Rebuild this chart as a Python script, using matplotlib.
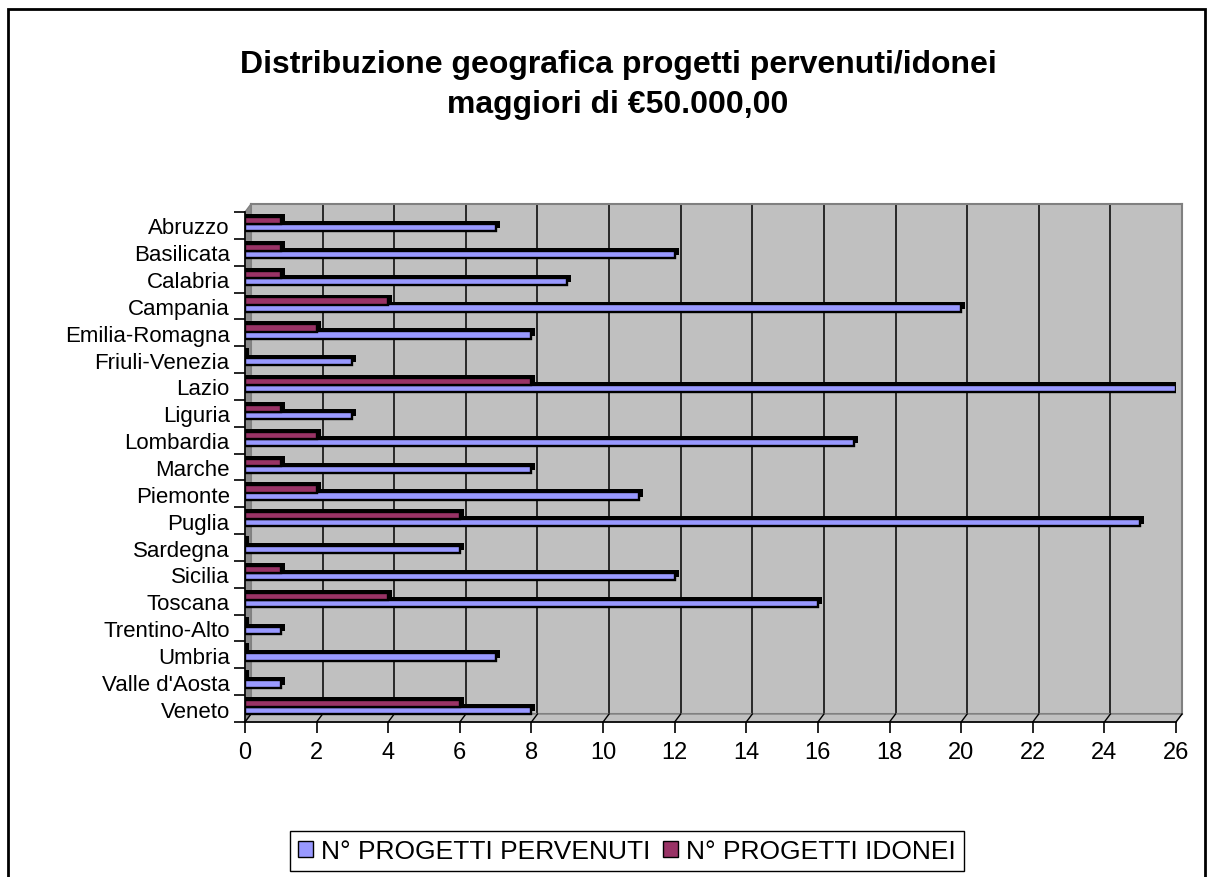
import numpy as np
import matplotlib
matplotlib.use("Agg")
import matplotlib.pyplot as plt
from matplotlib.patches import Polygon, Rectangle
from matplotlib.lines import Line2D

plt.rcParams["font.family"] = ["Liberation Sans", "DejaVu Sans"]

regioni = ["Abruzzo", "Basilicata", "Calabria", "Campania", "Emilia-Romagna",
           "Friuli-Venezia", "Lazio", "Liguria", "Lombardia", "Marche",
           "Piemonte", "Puglia", "Sardegna", "Sicilia", "Toscana",
           "Trentino-Alto", "Umbria", "Valle d'Aosta", "Veneto"]
pervenuti = [7, 12, 9, 20, 8, 3, 26, 3, 17, 8, 11, 25, 6, 12, 16, 1, 7, 1, 8]
idonei = [1, 1, 1, 4, 2, 0, 8, 1, 2, 1, 2, 6, 0, 1, 4, 0, 0, 0, 6]
xticks = list(range(0, 27, 2))

W, H = 1208, 878
blu = "#9999FF"
bordeaux = "#993366"
grigio = "#C0C0C0"

fig = plt.figure(figsize=(W / 100, H / 100), dpi=100)


def px(x, y):
    return (x / W, 1 - y / H)


def box(x0, y0, x1, y1):
    return [x0 / W, 1 - y1 / H, (x1 - x0) / W, (y1 - y0) / H]


# front axis geometry and back wall offset (pixels)
fx0, fy0, fx1, fy1 = 245, 213, 1176, 723
ox, oy = 6, 8

# back wall
wall = fig.add_axes(box(fx0 + ox, fy0 - oy, fx1 + ox, fy1 - oy), zorder=-2)
wall.set_facecolor(grigio)
wall.set_xlim(0, 26)
wall.set_ylim(0, 1)
for x in xticks[1:-1]:
    wall.axvline(x, color="black", lw=1.1)
wall.set_xticks([])
wall.set_yticks([])
for s in wall.spines.values():
    s.set_color("#808080")
    s.set_linewidth(1.5)

# side wall and floor
fig.add_artist(Polygon([px(fx0, fy0), px(fx0 + ox, fy0 - oy), px(fx0 + ox, fy1 - oy), px(fx0, fy1)],
                       closed=True, facecolor="#8C8C8C", edgecolor="#808080", lw=1,
                       transform=fig.transFigure, zorder=-1))
fig.add_artist(Polygon([px(fx0, fy1), px(fx0 + ox, fy1 - oy), px(fx1 + ox, fy1 - oy), px(fx1, fy1)],
                       closed=True, facecolor=grigio, edgecolor="#808080", lw=1,
                       transform=fig.transFigure, zorder=-1))
for x in xticks:
    xp = fx0 + (fx1 - fx0) * x / 26
    fig.add_artist(Line2D([xp / W, (xp + ox) / W], [1 - fy1 / H, 1 - (fy1 - oy) / H],
                          color="black", lw=1, transform=fig.transFigure, zorder=-1))

# main axes
ax = fig.add_axes(box(fx0, fy0, fx1, fy1))
ax.set_facecolor("none")
y = np.arange(len(regioni))
h = 0.27
dx, dy = 0.11, 0.11

ax.barh(y + 0.08 - dy, np.array(pervenuti) + dx, height=h, left=0,
        color="black", lw=0)
ax.barh(y + 0.08, pervenuti, height=h, color=blu, edgecolor="black", lw=1.7)
ax.barh(y - 0.18 - dy, np.array(idonei) + dx, height=h, left=0,
        color="black", lw=0)
ax.barh(y - 0.18, idonei, height=h, color=bordeaux, edgecolor="black", lw=1.7)

ax.set_xlim(0, 26)
ax.set_ylim(len(regioni) - 0.5, -0.5)
ax.set_xticks(xticks)
ax.set_xticklabels([str(v) for v in xticks], fontsize=17)
ax.set_yticks(np.arange(len(regioni) + 1) - 0.5, minor=False)
ax.set_yticklabels([])
ax.set_yticks(y, minor=True)
ax.set_yticklabels(regioni, minor=True, fontsize=16)
ax.tick_params(axis="y", which="minor", length=0, pad=11)
ax.tick_params(axis="y", which="major", length=8, width=1.2)
ax.tick_params(axis="x", length=8, width=1.2, pad=6)
ax.spines["top"].set_visible(False)
ax.spines["right"].set_visible(False)
ax.spines["left"].set_linewidth(1.2)
ax.spines["bottom"].set_linewidth(1.2)

fig.text(618 / W, 1 - 85 / H,
         "Distribuzione geografica progetti pervenuti/idonei\nmaggiori di €50.000,00",
         ha="center", va="center", fontsize=23, fontweight="bold", linespacing=1.45)

handles = [Rectangle((0, 0), 1, 1, facecolor=blu, edgecolor="black", lw=1),
           Rectangle((0, 0), 1, 1, facecolor=bordeaux, edgecolor="black", lw=1)]
leg = fig.legend(handles, ["N° PROGETTI PERVENUTI", "N° PROGETTI IDONEI"],
                 loc="center", bbox_to_anchor=px(627, 852), ncol=2, fontsize=19,
                 frameon=True, fancybox=False, edgecolor="black", framealpha=1,
                 handlelength=0.55, handleheight=0.55, handletextpad=0.3,
                 columnspacing=0.5, borderpad=0.3, borderaxespad=0)
leg.get_frame().set_linewidth(1)

fig.add_artist(Rectangle(px(8, 890), (1205 - 8) / W, (890 - 10) / H, fill=False,
                         edgecolor="black", lw=2, transform=fig.transFigure, zorder=10))

fig.savefig("out.png", dpi=100)
